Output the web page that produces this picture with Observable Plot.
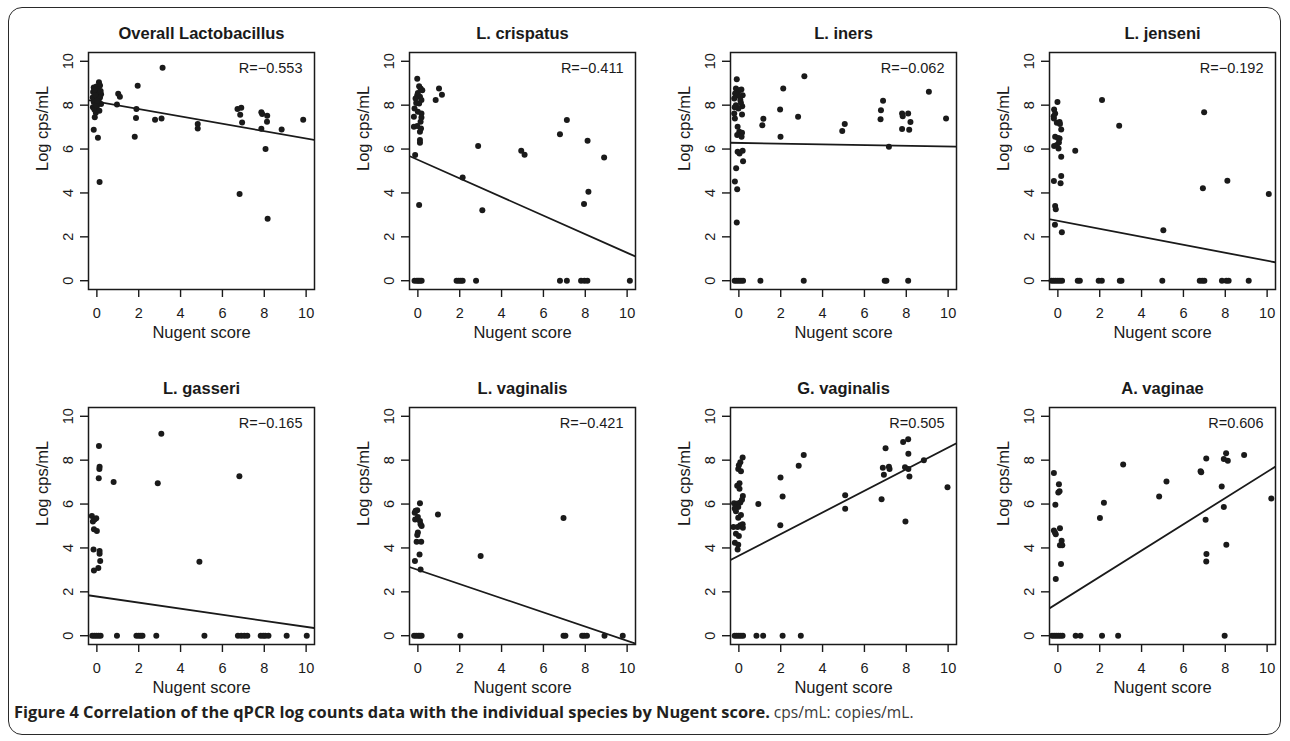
<!DOCTYPE html>
<html><head><meta charset="utf-8">
<script src="https://cdn.jsdelivr.net/npm/d3@7"></script>
<script src="https://cdn.jsdelivr.net/npm/@observablehq/plot@0.6"></script>
<style>
html,body{margin:0;padding:0;background:#fff;width:1290px;height:741px;overflow:hidden;font-family:"Liberation Sans",Arial,Helvetica,sans-serif;}
#frame{position:absolute;left:8px;top:7px;width:1273px;height:728px;border:1.3px solid #2a2a2a;border-radius:14px;box-sizing:border-box;}
#caption{position:absolute;left:14px;top:701px;font-family:"Open Sans","Liberation Sans",Arial,sans-serif;font-size:15px;line-height:22px;color:#231f20;white-space:nowrap;}
#caption b{font-weight:700;}
#caption span{color:#3a3a3a;font-weight:400;}
.panel{position:absolute;}
</style></head><body>
<div id="frame"></div>
<div id="panels"></div>
<div id="caption"><b id="capBold">Figure 4 Correlation of the qPCR log counts data with the individual species by Nugent score.</b> <span id="capReg">cps/mL: copies/mL.</span></div>
<script>
// ---- data ----
const titles = ["Overall Lactobacillus", "L. crispatus", "L. iners", "L. jenseni", "L. gasseri", "L. vaginalis", "G. vaginalis", "A. vaginae"];
const rLabels = ["R=\u22120.553", "R=\u22120.411", "R=\u22120.062", "R=\u22120.192", "R=\u22120.165", "R=\u22120.421", "R=0.505", "R=0.606"];
const intercepts = [8.16, 5.51, 6.28, 2.73, 1.785, 3.0, 3.65, 1.49];
const slopes = [-0.168, -0.424, -0.0167, -0.182, -0.138, -0.323, 0.492, 0.598];
const xTicks = [0, 2, 4, 6, 8, 10];
const yTicks = [0, 2, 4, 6, 8, 10];
const xLabel = "Nugent score";
const yLabel = "Log cps/mL";

const overallX = [0.10,-0.15,-0.02,0.15,-0.18,0.0,0.2,-0.2,0.05,0.15,-0.15,0.1,0.2,-0.19,0.0,-0.12,-0.05,-0.1,-0.15,0.05,0.13,0.08,-0.08,0.12,-0.05,0.18,-0.12,0.02,
  0.96,1.02,1.1,1.95,1.89,1.87,1.81,3.14,2.78,3.09,4.82,4.82,6.72,6.9,6.85,6.94,6.82,7.86,7.9,7.86,8.14,8.13,8.06,8.16,8.83,9.86];
const overallY = [9.05,8.8,8.85,8.9,8.6,8.55,8.5,8.35,8.3,8.35,8.15,8.15,8.05,7.9,7.95,7.8,7.65,7.45,6.88,6.52,4.5,8.7,8.45,7.75,8.0,8.65,8.7,8.2,
  8.03,8.52,8.38,8.88,7.82,7.42,6.56,9.70,7.33,7.39,7.14,6.94,7.83,7.88,7.56,7.21,3.95,7.68,7.6,6.92,7.52,7.24,6.0,2.82,6.89,7.33];

const crispatusX = [-0.03,0.06,0.13,0.21,-0.03,0.1,-0.11,0.17,0.06,-0.16,0.0,0.17,-0.19,0.17,0.13,-0.19,-0.03,0.15,0.1,0.1,0.1,-0.13,0.06,0.0,-0.08,
  0.85,1.01,1.15,2.14,2.88,3.08,4.94,5.1,6.79,7.12,8.11,8.15,7.94,8.9,
  -0.16,-0.05,0.02,0.1,0.18,1.85,1.95,2.05,2.14,2.78,6.79,7.12,7.8,7.96,8.1,10.13];
const crispatusY = [9.2,8.86,8.76,8.68,8.45,8.38,8.3,8.23,8.08,7.85,7.7,7.62,7.47,7.44,7.24,7.02,7.05,6.94,6.79,6.41,6.29,5.73,3.45,8.55,8.1,
  8.23,8.76,8.48,4.70,6.14,3.21,5.92,5.74,6.68,7.32,6.38,4.05,3.5,5.62,
  0,0,0,0,0,0,0,0,0,0,0,0,0,0,0,0];

const inersX = [-0.1,-0.14,0.02,0.12,-0.18,-0.06,0.18,-0.22,0.07,-0.14,0.16,-0.02,-0.22,0.15,-0.19,-0.06,0.02,0.15,-0.08,0.13,-0.06,0.03,0.18,0.2,-0.13,-0.19,-0.08,-0.1,0.1,-0.2,0.05,
  1.12,1.17,1.97,1.99,2.12,2.83,3.13,4.94,5.06,6.77,6.79,6.89,7.17,7.8,7.83,8.09,8.2,7.8,8.14,9.08,9.9,
  -0.2,-0.1,0.0,0.1,0.2,1.03,3.1,6.97,7.05,8.09];
const inersY = [9.18,8.76,8.68,8.71,8.53,8.45,8.45,8.3,8.23,8.0,7.95,7.85,7.62,7.58,7.39,7.02,6.79,6.74,6.64,6.56,5.88,5.8,5.92,5.45,5.12,4.52,4.17,2.65,8.1,7.9,8.4,
  7.09,7.38,7.8,6.56,8.76,7.47,9.32,6.82,7.14,7.36,7.77,8.2,6.11,7.62,7.5,7.62,7.23,6.91,6.88,8.61,7.39,
  0,0,0,0,0,0,0,0,0,0];

const jenseniX = [-0.02,-0.18,-0.13,-0.19,-0.05,0.08,0.1,0.16,-0.13,0.0,0.08,-0.18,-0.05,0.03,0.16,0.16,0.13,-0.19,-0.13,-0.1,-0.14,0.19,-0.2,0.05,
  0.83,2.11,2.93,5.04,6.93,6.99,8.1,10.08,
  -0.3,-0.2,-0.1,0.0,0.1,0.2,0.95,1.05,1.95,2.1,2.96,3.04,4.99,6.78,6.9,7.0,7.84,8.05,8.16,9.12];
const jenseniY = [8.14,7.8,7.62,7.39,7.2,7.23,7.14,6.89,6.56,6.5,6.48,6.14,6.18,6.03,5.65,4.77,4.44,4.55,3.41,3.26,2.55,2.21,7.5,6.3,
  5.92,8.24,7.06,2.3,4.21,7.68,4.56,3.95,
  0,0,0,0,0,0,0,0,0,0,0,0,0,0,0,0,0,0,0,0];

const gasseriX = [0.1,0.13,0.12,0.09,-0.24,-0.11,-0.03,-0.19,-0.14,0.0,-0.16,0.13,0.13,0.16,0.07,-0.14,
  0.8,2.91,3.08,4.9,6.81,
  -0.22,-0.12,-0.02,0.08,0.18,0.96,1.89,2.0,2.1,2.18,2.84,5.14,6.74,6.9,7.05,7.19,7.83,7.95,8.05,8.2,9.07,10.03];
const gasseriY = [8.64,7.7,7.6,7.18,5.46,5.3,5.35,5.2,4.85,4.77,3.93,3.86,3.73,3.4,3.09,2.97,
  7.01,6.95,9.2,3.37,7.27,
  0,0,0,0,0,0,0,0,0,0,0,0,0,0,0,0,0,0,0,0,0,0];

const lvaginalisX = [0.1,-0.11,-0.03,-0.13,0.0,0.1,0.13,0.18,0.0,-0.03,-0.06,0.16,0.08,-0.14,0.13,-0.15,
  0.96,3.0,6.96,
  -0.18,-0.08,0.02,0.1,0.18,2.03,6.96,7.05,7.85,7.95,8.08,8.92,9.79];
const lvaginalisY = [6.04,5.69,5.72,5.3,5.41,5.23,5.08,5.0,4.7,4.59,4.28,4.28,3.7,3.4,3.02,5.6,
  5.52,3.63,5.37,
  0,0,0,0,0,0,0,0,0,0,0,0,0];

const gvaginalisX = [0.18,0.07,0.0,-0.03,0.1,-0.08,0.03,0.03,0.19,-0.23,-0.06,0.07,-0.03,-0.14,-0.03,-0.26,0.07,0.18,0.19,-0.06,-0.14,0.0,-0.19,-0.03,-0.06,-0.2,0.1,0.15,
  0.93,1.99,1.98,2.09,2.86,3.1,5.08,5.08,6.82,6.93,6.88,7.01,7.17,7.2,7.85,8.09,8.1,7.94,8.1,8.15,7.96,8.84,9.97,
  -0.2,-0.1,0.0,0.1,0.2,0.84,1.16,2.09,2.96];
const gvaginalisY = [8.12,7.9,7.77,7.6,7.5,6.83,6.95,6.7,6.37,6.04,6.02,6.07,5.87,5.67,5.38,4.95,5.03,5.08,4.92,4.95,4.65,4.54,4.24,4.15,3.93,5.8,5.5,6.2,
  6.0,7.21,5.03,6.35,7.74,8.23,6.4,5.79,6.22,7.33,7.65,8.54,7.7,7.6,8.83,8.95,8.29,7.68,7.6,7.26,5.2,8.0,6.77,
  0,0,0,0,0,0,0,0,0];

const vaginaeX = [-0.19,0.05,0.02,0.08,-0.12,-0.19,-0.1,0.1,0.18,0.1,0.21,0.15,-0.1,-0.14,
  2.01,2.2,3.12,4.84,5.19,6.82,6.85,7.09,7.06,7.1,7.09,7.83,7.93,8.04,8.12,7.93,8.05,8.9,10.2,
  -0.28,-0.18,-0.08,0.02,0.12,0.22,0.85,1.08,2.11,2.88,7.97];
const vaginaeY = [7.42,6.9,6.53,6.58,5.97,4.8,4.62,4.9,4.33,4.12,4.12,3.27,2.58,4.7,
  5.37,6.06,7.8,6.34,7.03,7.5,7.45,8.08,5.29,3.72,3.38,6.8,8.05,8.31,7.97,5.87,4.15,8.24,6.25,
  0,0,0,0,0,0,0,0,0,0,0];

const seriesX = [overallX, crispatusX, inersX, jenseniX, gasseriX, lvaginalisX, gvaginalisX, vaginaeX];
const seriesY = [overallY, crispatusY, inersY, jenseniY, gasseriY, lvaginalisY, gvaginalisY, vaginaeY];

// ---- layout ----
const xDomain = [-0.4, 10.4];
const yDomain = [-0.4, 10.4];
const boxLefts = [88, 409, 730, 1049];
const boxTops = [52, 407];
const BW = 226, BH = 237;
const ML = 70, MR = 12, MT = 45, MB = 60;
const ink = "#1a1a1a";
const font = "'Liberation Sans', Arial, Helvetica, sans-serif";

const host = document.getElementById("panels");
titles.forEach((title, i) => {
  const xs = seriesX[i], ys = seriesY[i];
  const pts = xs.map((x, k) => ({x, y: ys[k]}));
  const a = intercepts[i], b = slopes[i];
  const fit = [xDomain[0] - 1, xDomain[1] + 1].map(x => ({x, y: a + b * x}));
  const chart = Plot.plot({
    width: ML + BW + MR,
    height: MT + BH + MB,
    marginLeft: ML, marginRight: MR, marginTop: MT, marginBottom: MB,
    x: {domain: xDomain},
    y: {domain: yDomain},
    style: {fontFamily: font, background: "transparent", overflow: "visible", color: ink},
    marks: [
      Plot.axisX({ticks: xTicks, tickSize: 8, tickPadding: 10, fontSize: 14.5, label: null, strokeWidth: 1.4, tickFormat: d => String(d)}),
      Plot.axisY({ticks: yTicks, tickSize: 8, label: null, strokeWidth: 1.4, tickFormat: () => ""}),
      Plot.text(yTicks, {y: d => d, frameAnchor: "left", dx: -20, rotate: -90, text: d => String(d), fontSize: 14.5, textAnchor: "middle", lineAnchor: "middle", fill: ink}),
      Plot.line(fit, {x: "x", y: "y", stroke: ink, strokeWidth: 1.8, clip: true}),
      Plot.dot(pts, {x: "x", y: "y", r: 3, fill: ink, stroke: "none"}),
      Plot.frame({stroke: ink, strokeWidth: 1.5}),
      Plot.text([title], {frameAnchor: "top", dy: -19, text: d => d, fontWeight: "bold", fontSize: 16.5, lineAnchor: "middle", fill: ink}),
      Plot.text([rLabels[i]], {frameAnchor: "top-right", dx: -12, dy: 16, text: d => d, textAnchor: "end", fontSize: 14.5, lineAnchor: "middle", fill: ink}),
      Plot.text([xLabel], {frameAnchor: "bottom", dy: 43, text: d => d, fontSize: 16.5, lineAnchor: "middle", fill: ink}),
      Plot.text([yLabel], {frameAnchor: "left", dx: -46, rotate: -90, text: d => d, fontSize: 16.5, lineAnchor: "middle", fill: ink})
    ]
  });
  const div = document.createElement("div");
  div.className = "panel";
  div.style.left = (boxLefts[i % 4] - ML) + "px";
  div.style.top = (boxTops[Math.floor(i / 4)] - MT) + "px";
  div.appendChild(chart);
  host.appendChild(div);
});

// fit the bold caption to the reference width; regular part follows at a similar size
const capBold = document.getElementById("capBold");
const capReg = document.getElementById("capReg");
const bw = capBold.getBoundingClientRect().width;
const bfs = parseFloat(getComputedStyle(capBold).fontSize);
const fitted = bw > 0 ? bfs * 756 / bw : bfs;
capBold.style.fontSize = fitted.toFixed(2) + "px";
capReg.style.fontSize = (fitted * 0.95).toFixed(2) + "px";
</script>
</body></html>
